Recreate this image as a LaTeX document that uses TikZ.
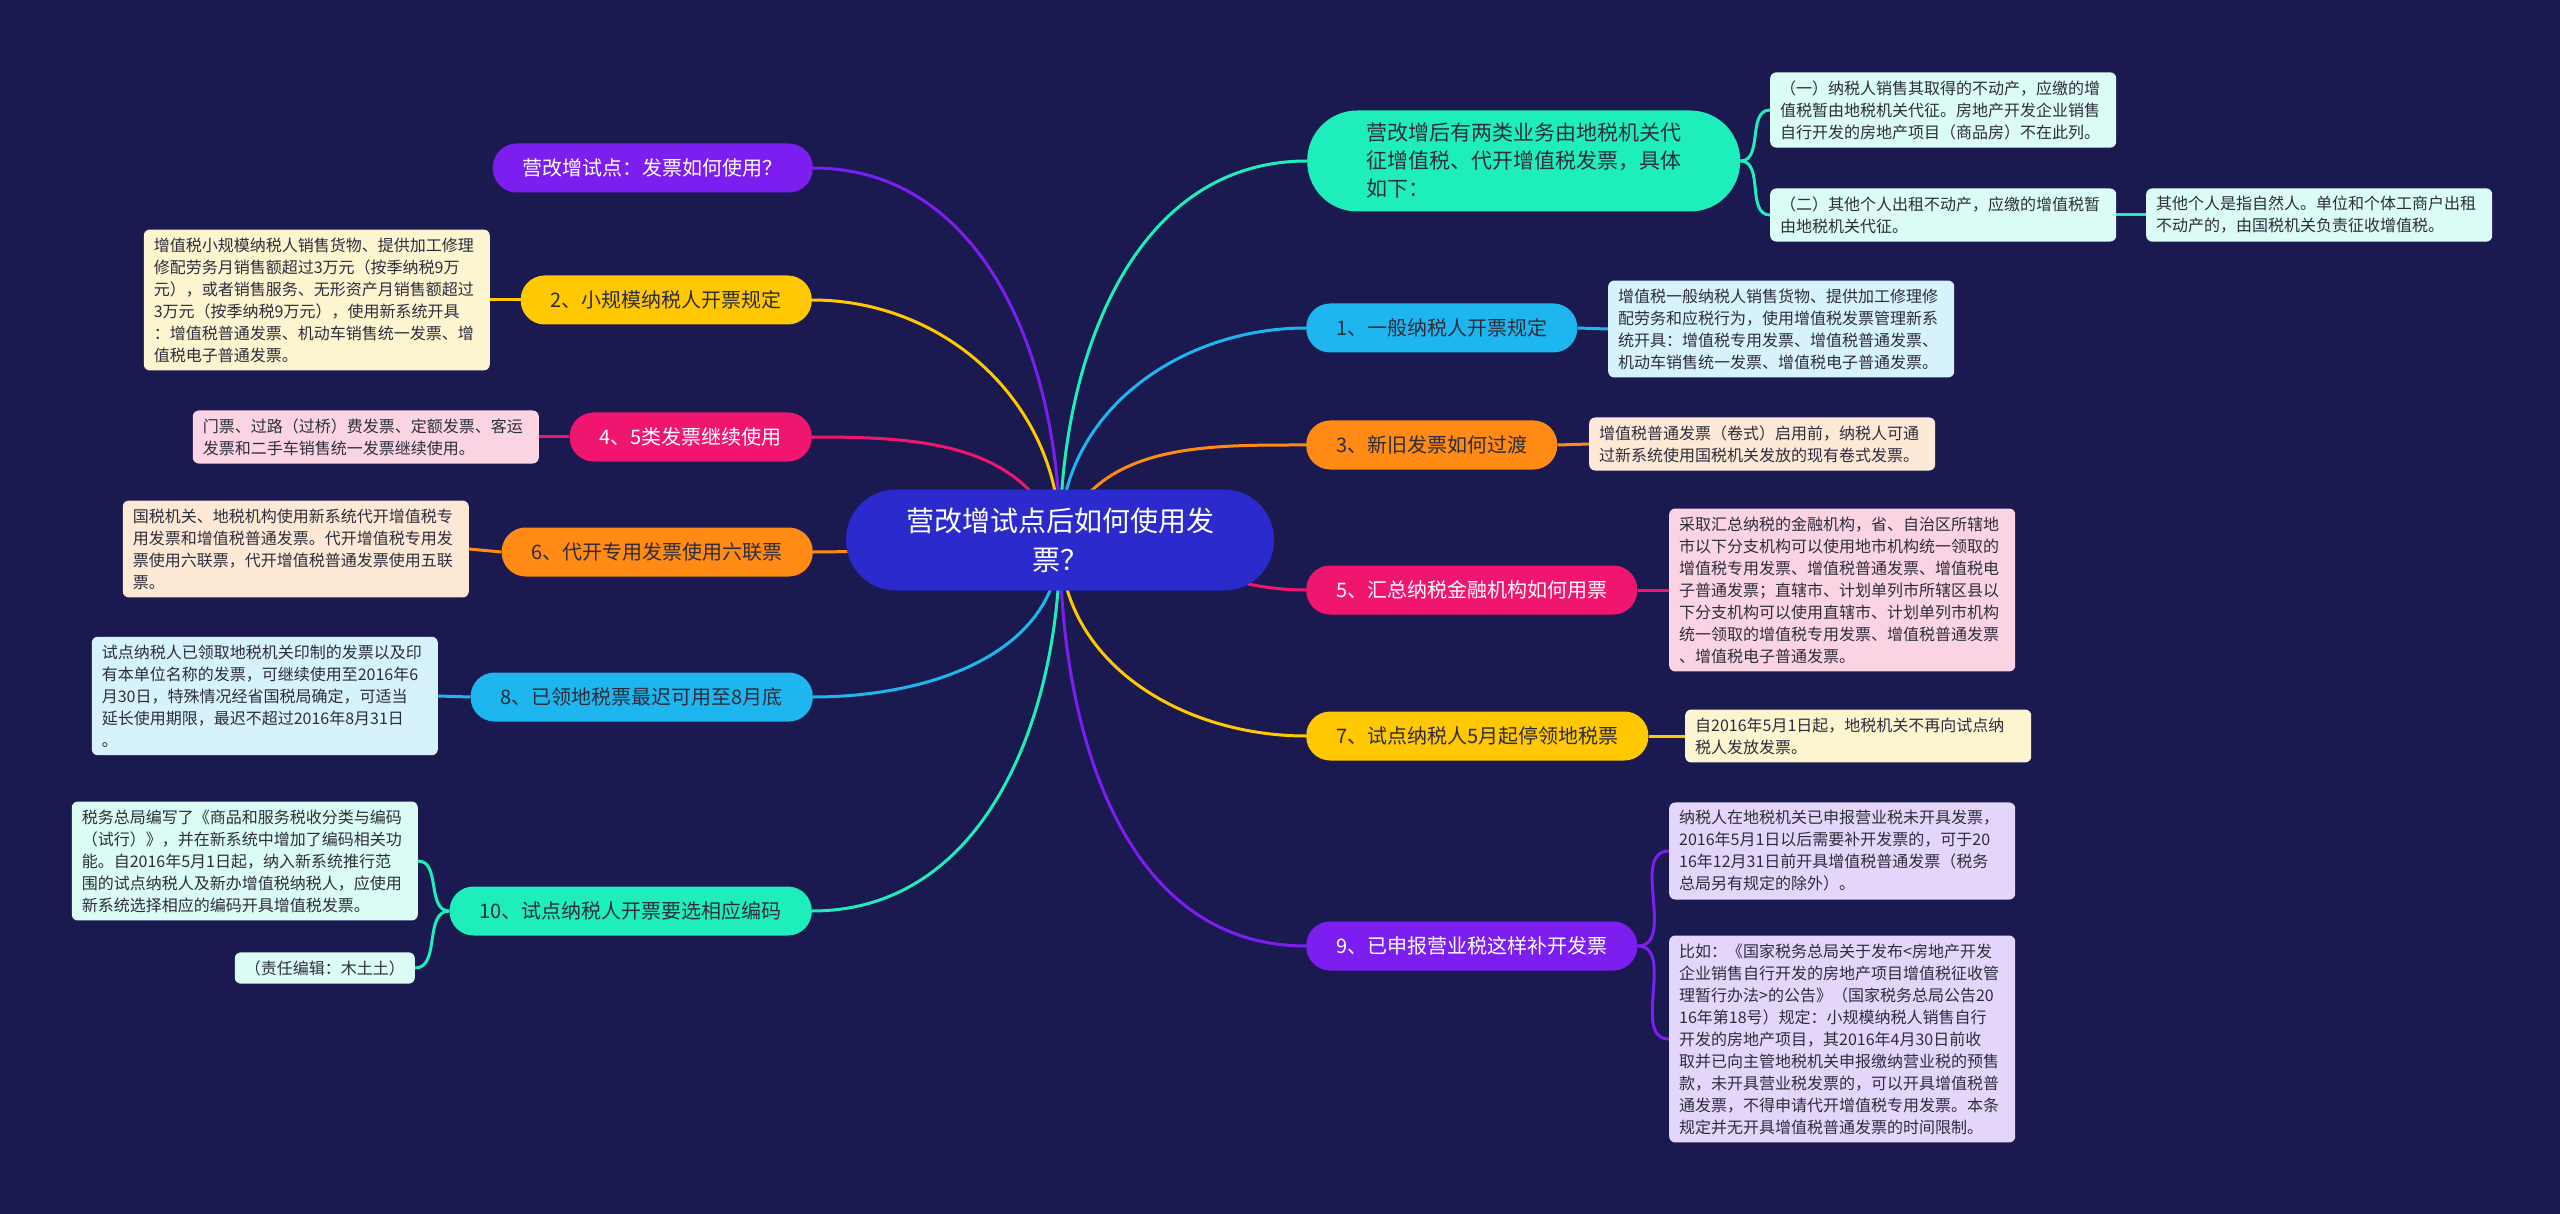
\documentclass[tikz,border=0pt]{standalone}
\usepackage{fontspec}
\setmainfont{Noto Sans CJK SC}
\usepackage{tikz}
\usetikzlibrary{calc}
\definecolor{mm-bg}{RGB}{27,26,80}
\definecolor{mm-root}{RGB}{42,42,205}
\definecolor{mm-teal}{RGB}{30,238,188}
\definecolor{mm-teal2}{RGB}{218,252,244}
\definecolor{mm-cyan}{RGB}{30,182,238}
\definecolor{mm-cyan2}{RGB}{214,242,252}
\definecolor{mm-orange}{RGB}{255,138,20}
\definecolor{mm-orange2}{RGB}{253,233,214}
\definecolor{mm-pink}{RGB}{240,22,112}
\definecolor{mm-pink2}{RGB}{251,212,228}
\definecolor{mm-yellow}{RGB}{255,200,0}
\definecolor{mm-yellow2}{RGB}{253,244,208}
\definecolor{mm-purple}{RGB}{124,30,240}
\definecolor{mm-purple2}{RGB}{228,214,250}
\definecolor{mm-ink}{RGB}{45,45,60}
\pgfdeclarelayer{bg}
\pgfsetlayers{bg,main}
\tikzset{
  topic/.style={rounded corners=24pt, minimum height=49pt, inner xsep=30pt, inner ysep=0pt,
    font=\fontsize{20}{24}\selectfont, text=mm-ink},
  note/.style={rounded corners=6pt, inner xsep=10pt, inner ysep=8pt, text width=326pt,
    align=left, font=\fontsize{16}{22}\selectfont, text=mm-ink},
  link/.style={line width=3pt},
}

\begin{document}
\begin{tikzpicture}[x=1pt, y=-1pt]
  \node[fill=mm-root, text=white, rounded corners=50pt, minimum width=428pt, minimum height=101pt,
    align=center, font=\fontsize{28}{39}\selectfont] (root) at (1060,540) {营改增试点后如何使用发\\票？};

  % right side
  \node[fill=mm-teal, text=mm-ink, rounded corners=50pt, minimum width=433pt, minimum height=101pt,
    text width=315pt, align=left, font=\fontsize{21}{28}\selectfont, anchor=west] (r0) at (1307,161)
    {营改增后有两类业务由地税机关代\\征增值税、代开增值税发票，具体\\如下：};
  \node[topic, fill=mm-cyan, anchor=west] (r1) at (1306,328) {1、一般纳税人开票规定};
  \node[topic, fill=mm-orange, anchor=west] (r3) at (1306,445) {3、新旧发票如何过渡};
  \node[topic, fill=mm-pink, text=white, anchor=west] (r5) at (1306,590) {5、汇总纳税金融机构如何用票};
  \node[topic, fill=mm-yellow, anchor=west] (r7) at (1306,736) {7、试点纳税人5月起停领地税票};
  \node[topic, fill=mm-purple, text=white, anchor=west] (r9) at (1306,946) {9、已申报营业税这样补开发票};

  \node[note, fill=mm-teal2, anchor=west] (r0a) at (1770,110)
    {（一）纳税人销售其取得的不动产，应缴的增\\值税暂由地税机关代征。房地产开发企业销售\\自行开发的房地产项目（商品房）不在此列。};
  \node[note, fill=mm-teal2, anchor=west] (r0b) at (1770,215)
    {（二）其他个人出租不动产，应缴的增值税暂\\由地税机关代征。};
  \node[note, fill=mm-teal2, anchor=west] (r0c) at (2146,215)
    {其他个人是指自然人。单位和个体工商户出租\\不动产的，由国税机关负责征收增值税。};
  \node[note, fill=mm-cyan2, anchor=west] (r1a) at (1608,329)
    {增值税一般纳税人销售货物、提供加工修理修\\配劳务和应税行为，使用增值税发票管理新系\\统开具：增值税专用发票、增值税普通发票、\\机动车销售统一发票、增值税电子普通发票。};
  \node[note, fill=mm-orange2, anchor=west] (r3a) at (1589,444)
    {增值税普通发票（卷式）启用前，纳税人可通\\过新系统使用国税机关发放的现有卷式发票。};
  \node[note, fill=mm-pink2, anchor=west] (r5a) at (1669,590)
    {采取汇总纳税的金融机构，省、自治区所辖地\\市以下分支机构可以使用地市机构统一领取的\\增值税专用发票、增值税普通发票、增值税电\\子普通发票；直辖市、计划单列市所辖区县以\\下分支机构可以使用直辖市、计划单列市机构\\统一领取的增值税专用发票、增值税普通发票\\、增值税电子普通发票。};
  \node[note, fill=mm-yellow2, anchor=west] (r7a) at (1685,736)
    {自2016年5月1日起，地税机关不再向试点纳\\税人发放发票。};
  \node[note, fill=mm-purple2, anchor=west] (r9a) at (1669,851)
    {纳税人在地税机关已申报营业税未开具发票，\\2016年5月1日以后需要补开发票的，可于20\\16年12月31日前开具增值税普通发票（税务\\总局另有规定的除外）。};
  \node[note, fill=mm-purple2, anchor=west] (r9b) at (1669,1039)
    {比如：《国家税务总局关于发布<房地产开发\\企业销售自行开发的房地产项目增值税征收管\\理暂行办法>的公告》（国家税务总局公告20\\16年第18号）规定：小规模纳税人销售自行\\开发的房地产项目，其2016年4月30日前收\\取并已向主管地税机关申报缴纳营业税的预售\\款，未开具营业税发票的，可以开具增值税普\\通发票，不得申请代开增值税专用发票。本条\\规定并无开具增值税普通发票的时间限制。};

  % left side
  \node[topic, fill=mm-purple, text=white, anchor=east] (l0) at (813,168) {营改增试点：发票如何使用？};
  \node[topic, fill=mm-yellow, anchor=east] (l2) at (812,300) {2、小规模纳税人开票规定};
  \node[topic, fill=mm-pink, text=white, anchor=east] (l4) at (812,437) {4、5类发票继续使用};
  \node[topic, fill=mm-orange, anchor=east] (l6) at (813,552) {6、代开专用发票使用六联票};
  \node[topic, fill=mm-cyan, anchor=east] (l8) at (813,697) {8、已领地税票最迟可用至8月底};
  \node[topic, fill=mm-teal, anchor=east] (l10) at (812,911) {10、试点纳税人开票要选相应编码};

  \node[note, fill=mm-yellow2, anchor=east] (l2a) at (490,300)
    {增值税小规模纳税人销售货物、提供加工修理\\修配劳务月销售额超过3万元（按季纳税9万\\元），或者销售服务、无形资产月销售额超过\\3万元（按季纳税9万元），使用新系统开具\\：增值税普通发票、机动车销售统一发票、增\\值税电子普通发票。};
  \node[note, fill=mm-pink2, anchor=east] (l4a) at (539,437)
    {门票、过路（过桥）费发票、定额发票、客运\\发票和二手车销售统一发票继续使用。};
  \node[note, fill=mm-orange2, anchor=east] (l6a) at (469,549)
    {国税机关、地税机构使用新系统代开增值税专\\用发票和增值税普通发票。代开增值税专用发\\票使用六联票，代开增值税普通发票使用五联\\票。};
  \node[note, fill=mm-cyan2, anchor=east] (l8a) at (438,696)
    {试点纳税人已领取地税机关印制的发票以及印\\有本单位名称的发票，可继续使用至2016年6\\月30日，特殊情况经省国税局确定，可适当\\延长使用期限，最迟不超过2016年8月31日\\。};
  \node[note, fill=mm-teal2, anchor=east] (l10a) at (418,861)
    {税务总局编写了《商品和服务税收分类与编码\\（试行）》，并在新系统中增加了编码相关功\\能。自2016年5月1日起，纳入新系统推行范\\围的试点纳税人及新办增值税纳税人，应使用\\新系统选择相应的编码开具增值税发票。};
  \node[note, fill=mm-teal2, anchor=east, text width=] (l10b) at (415,968) {（责任编辑：木土土）};

  \begin{pgfonlayer}{bg}
    \fill[mm-bg] (0,0) rectangle (2560,1214);
    \draw[link, mm-teal] (root.center) to[out=90, in=180] (r0.west);
    \draw[link, mm-cyan] (root.center) to[out=90, in=180] (r1.west);
    \draw[link, mm-orange] (root.center) to[out=70, in=180] (r3.west);
    \draw[link, mm-pink] (root.center) to[out=0, in=180] (r5.west);
    \draw[link, mm-yellow] (root.center) to[out=-90, in=180] (r7.west);
    \draw[link, mm-purple] (root.center) to[out=-90, in=180] (r9.west);
    \draw[link, mm-purple] (root.center) to[out=90, in=0] (l0.east);
    \draw[link, mm-yellow] (root.center) to[out=90, in=0] (l2.east);
    \draw[link, mm-pink] (root.center) to[out=110, in=0] (l4.east);
    \draw[link, mm-orange] (root.center) to[out=180, in=0] (l6.east);
    \draw[link, mm-cyan] (root.center) to[out=-90, in=0] (l8.east);
    \draw[link, mm-teal] (root.center) to[out=-90, in=0] (l10.east);

    \draw[link, mm-teal] (r0.east) to[out=0, in=180] (r0a.west);
    \draw[link, mm-teal] (r0.east) to[out=0, in=180] (r0b.west);
    \draw[link, mm-teal] (r0b.east) -- (r0c.west);
    \draw[link, mm-cyan] (r1.east) -- (r1a.west);
    \draw[link, mm-orange] (r3.east) -- (r3a.west);
    \draw[link, mm-pink] (r5.east) -- (r5a.west);
    \draw[link, mm-yellow] (r7.east) -- (r7a.west);
    \draw[link, mm-purple] (r9.east) to[out=0, in=180] (r9a.west);
    \draw[link, mm-purple] (r9.east) to[out=0, in=180] (r9b.west);
    \draw[link, mm-yellow] (l2.west) -- (l2a.east);
    \draw[link, mm-pink] (l4.west) -- (l4a.east);
    \draw[link, mm-orange] (l6.west) -- (l6a.east);
    \draw[link, mm-cyan] (l8.west) -- (l8a.east);
    \draw[link, mm-teal] (l10.west) to[out=180, in=0] (l10a.east);
    \draw[link, mm-teal] (l10.west) to[out=180, in=0] (l10b.east);
  \end{pgfonlayer}
\end{tikzpicture}
\end{document}
